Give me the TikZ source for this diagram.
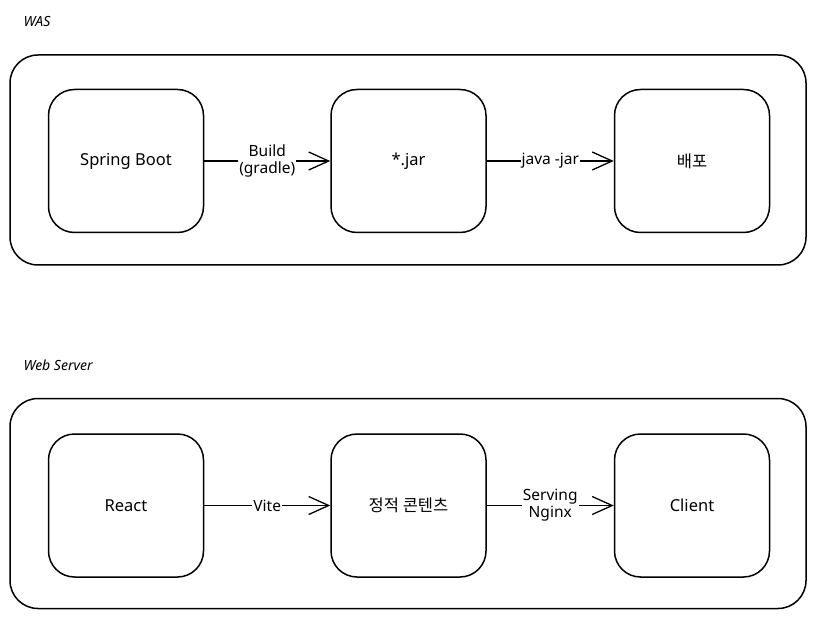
\documentclass[tikz,border=0pt]{standalone}
\usepackage{fontspec}
\setmainfont{Noto Sans}
\newfontfamily\krfont{Noto Sans CJK KR}
\usetikzlibrary{arrows.meta}
\begin{document}
\begin{tikzpicture}[x=1pt,y=-1pt,
  container/.style={draw,line width=1.5pt,rounded corners=28pt,minimum width=796pt,minimum height=210pt},
  stepbox/.style={draw,line width=1.5pt,rounded corners=26pt,minimum width=155pt,minimum height=143pt,font=\fontsize{16.5}{19}\selectfont},
  flow/.style={line width=1.3pt,-{Straight Barb[length=20pt,width=18pt,line width=1.3pt]}},
  lbl/.style={fill=white,inner sep=1pt,align=center,font=\fontsize{15.5}{17}\selectfont},
  title/.style={anchor=west,font=\itshape\fontsize{14}{16}\selectfont}]
\useasboundingbox (0,0) rectangle (816,620);
\node[title] (t1) at (20,22) {WAS};
\node[title] (t2) at (20,365) {Web Server};
\node[container] (c1) at (408,160) {};
\node[container] (c2) at (408,503.5) {};
\node[stepbox] (sb) at (126,161) {Spring Boot};
\node[stepbox] (jar) at (408.5,161) {*.jar};
\node[stepbox] (dep) at (692,161) {\krfont 배포};
\node[stepbox] (re) at (126,505.5) {React};
\node[stepbox] (st) at (408.5,505.5) {\krfont 정적 콘텐츠};
\node[stepbox] (cl) at (692,505.5) {Client};
\draw[flow] (sb) -- node[lbl] {Build\\(gradle)} (jar);
\draw[flow] (jar) -- node[lbl] {java -jar} (dep);
\draw[flow] (re) -- node[lbl] {Vite} (st);
\draw[flow] (st) -- node[lbl] {Serving\\Nginx} (cl);
\end{tikzpicture}
\end{document}
